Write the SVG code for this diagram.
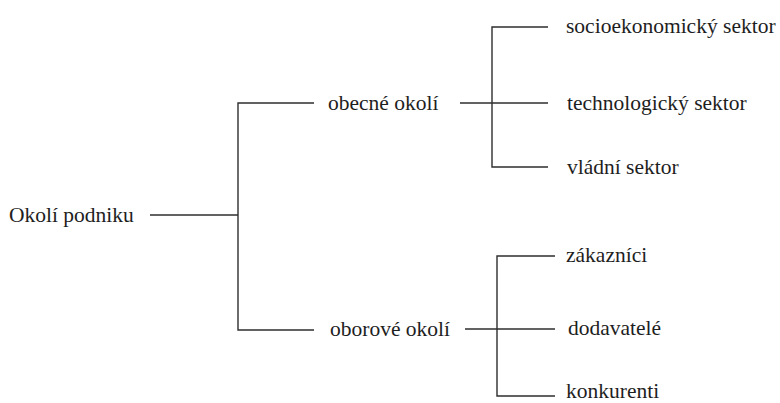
<svg xmlns="http://www.w3.org/2000/svg" width="780" height="403" viewBox="0 0 780 403">
<style>
text{font-family:'Liberation Serif','Times New Roman','DejaVu Serif',serif;font-size:21.5px;fill:#1e1e1e}
.c{fill:none;stroke:#2e2e2e;stroke-width:1.4}
</style>
<rect width="780" height="403" fill="#fff"/>
<g id="connectors">
<line class="c" x1="150" y1="215" x2="238" y2="215"/>
<polyline class="c" points="314,103 238,103 238,330 314,330"/>
<line class="c" x1="460" y1="103" x2="548" y2="103"/>
<polyline class="c" points="548,27 492,27 492,167 548,167"/>
<line class="c" x1="465" y1="329" x2="555" y2="329"/>
<polyline class="c" points="555,256 497,256 497,396 555,396"/>
</g>
<g id="root"><text x="9" y="222">Okolí podniku</text></g>
<g id="obecne"><text x="328" y="110">obecné okolí</text></g>
<g id="oborove"><text x="330" y="336">oborové okolí</text></g>
<g id="socio"><text x="566" y="33">socioekonomický sektor</text></g>
<g id="tech"><text x="567" y="110">technologický sektor</text></g>
<g id="vladni"><text x="567" y="174">vládní sektor</text></g>
<g id="zakaznici"><text x="566" y="262">zákazníci</text></g>
<g id="dodavatele"><text x="568" y="335">dodavatelé</text></g>
<g id="konkurenti"><text x="566" y="398">konkurenti</text></g>
</svg>
